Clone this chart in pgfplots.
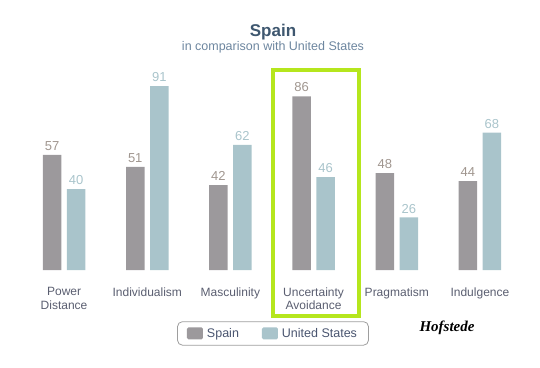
\documentclass[border=0pt]{standalone}
\usepackage{pgfplots}
\pgfplotsset{compat=1.18}
\usepackage{fontspec}
\setmainfont{Liberation Sans}
\newfontfamily\sigfont{Liberation Serif}
\definecolor{spain}{HTML}{9C999C}
\definecolor{usa}{HTML}{A9C4CB}
\definecolor{spainlab}{HTML}{A0968F}
\definecolor{titlec}{HTML}{3E576F}
\definecolor{subc}{HTML}{6D869F}
\definecolor{tickc}{HTML}{5A5E70}
\definecolor{legc}{HTML}{4A5570}
\definecolor{hl}{HTML}{B5E61D}
\pgfplotsset{
  mybar/.style={ybar, bar width=18.5pt, draw=none, fill=#1,
    legend image code/.code={\fill[fill=#1, rounded corners=1.5pt] (0pt,-6pt) rectangle (16pt,6pt);},
    nodes near coords,
    every node near coord/.append style={font=\fontsize{13}{15}\selectfont, inner sep=4pt}},
}
\begin{document}
\begin{tikzpicture}[x=1pt,y=1pt]
\path (0,0) rectangle (540,367);
\node[font=\bfseries\fontsize{17}{19}\selectfont, text=titlec] at (273,335) {Spain};
\node[font=\fontsize{12.5}{14}\selectfont, text=subc] at (273,320) {in comparison with United States};
\begin{axis}[
  at={(22.5pt,97pt)}, anchor=south west, scale only axis,
  width=499pt, height=202pt,
  xmin=-0.5, xmax=5.5, ymin=0, ymax=100,
  /pgf/number format/assume math mode=true,
  axis line style={draw=none},
  ytick=\empty,
  xtick={0,1,2,3,4,5},
  xticklabels={{Power\\Distance},Individualism,Masculinity,{Uncertainty\\Avoidance},Pragmatism,Indulgence},
  xticklabel style={align=center, font=\fontsize{12}{13.5}\selectfont, text=tickc, yshift=-14pt},
  major tick length=0pt,
  clip=false,
  legend columns=2,
  legend style={at={(0.502,-0.314)}, anchor=center, draw=black!38, line width=0.8pt,
    rounded corners=5pt, font=\fontsize{12.5}{14}\selectfont, text=legc,
    inner xsep=9.5pt, inner ysep=4.5pt,
    /tikz/every odd column/.append style={column sep=2pt},
    /tikz/every even column/.append style={column sep=21pt}},
]
\addplot[mybar=spain, bar shift=-12pt, every node near coord/.append style={text=spainlab, xshift=-12pt}]
  coordinates {(0,57) (1,51) (2,42) (3,86) (4,48) (5,44)};
\addlegendentry{Spain}
\addplot[mybar=usa, bar shift=12pt, every node near coord/.append style={text=usa, xshift=12pt}]
  coordinates {(0,40) (1,91) (2,62) (3,46) (4,26) (5,68)};
\addlegendentry{United States}
\draw[hl, line width=4pt] (axis cs:2.506,99.0) rectangle (axis cs:3.542,-22.8);
\end{axis}
\node[font=\sigfont\bfseries\itshape\fontsize{15}{17}\selectfont] at (447,39) {Hofstede};
\end{tikzpicture}
\end{document}
